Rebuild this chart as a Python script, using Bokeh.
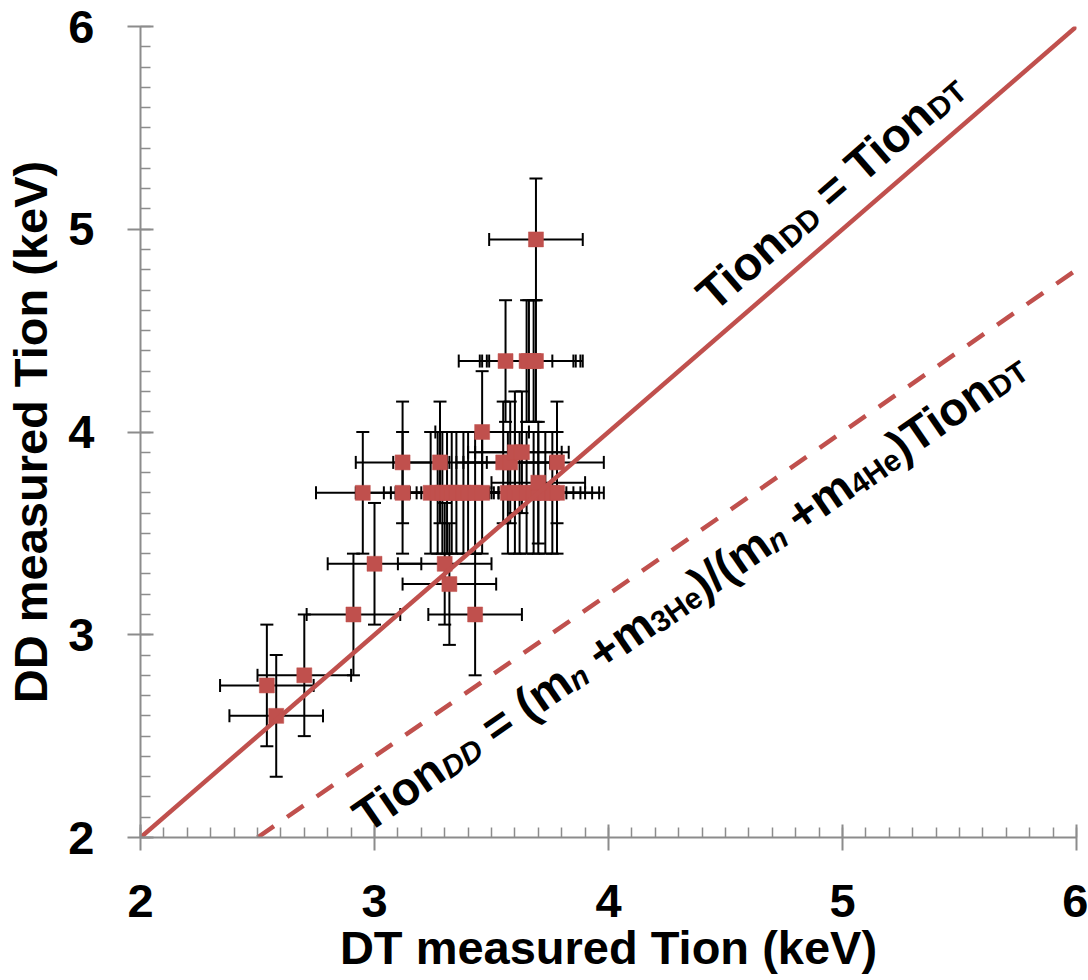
import math
from bokeh.plotting import figure
from bokeh.models import ColumnDataSource, Whisker, TeeHead, Label, FixedTicker, Range1d
from bokeh.embed import file_html
from bokeh.resources import INLINE

# ---------------- data ----------------
dt_tion = [2.54, 2.58, 2.70, 2.91, 3.00, 2.95, 3.12, 3.12, 3.28, 3.46,
           3.24, 3.27, 3.29, 3.31, 3.33, 3.35, 3.38, 3.40, 3.43, 3.46,
           3.57, 3.60, 3.62, 3.65, 3.68, 3.70, 3.73, 3.76, 3.78,
           3.55, 3.58, 3.78, 3.60, 3.63, 3.70,
           3.56, 3.65, 3.66, 3.68, 3.69, 3.69,
           3.30, 3.32, 3.43]
dd_tion = [2.75, 2.60, 2.80, 3.10, 3.35, 3.70, 3.85, 3.70, 3.85, 4.00,
           3.70, 3.70, 3.70, 3.70, 3.70, 3.70, 3.70, 3.70, 3.70, 3.70,
           3.70, 3.70, 3.70, 3.70, 3.70, 3.70, 3.70, 3.70, 3.70,
           3.85, 3.85, 3.85, 3.90, 3.90, 3.75,
           4.35, 4.35, 4.35, 4.35, 4.35, 4.95,
           3.35, 3.25, 3.10]
dt_err = [0.2, 0.2, 0.2, 0.2, 0.2, 0.2, 0.2, 0.2, 0.2, 0.2,
          0.2, 0.2, 0.2, 0.2, 0.2, 0.2, 0.2, 0.2, 0.2, 0.2,
          0.2, 0.2, 0.2, 0.2, 0.2, 0.2, 0.2, 0.2, 0.2,
          0.2, 0.2, 0.2, 0.2, 0.2, 0.2,
          0.2, 0.2, 0.2, 0.2, 0.2, 0.2,
          0.2, 0.2, 0.2]
dd_err = [0.3, 0.3, 0.3, 0.3, 0.3, 0.3, 0.3, 0.3, 0.3, 0.3,
          0.3, 0.3, 0.3, 0.3, 0.3, 0.3, 0.3, 0.3, 0.3, 0.3,
          0.3, 0.3, 0.3, 0.3, 0.3, 0.3, 0.3, 0.3, 0.3,
          0.3, 0.3, 0.3, 0.3, 0.3, 0.3,
          0.3, 0.3, 0.3, 0.3, 0.3, 0.3,
          0.3, 0.3, 0.3]

equal_x = [2, 6]
equal_y = [2, 6]
mass_x = [2.5, 6]
mass_y = [2.0, 4.8]

major_ticks = [2, 3, 4, 5, 6]
x_title = "DT measured Tion (keV)"
y_title = "DD measured Tion (keV)"

# ---------------- figure ----------------
RED = "#C0504D"
AXIS = "#8c8c8c"
FONT = "Liberation Sans"

W, H = 1088, 980
ML, MR, MT, MB = 140, 12, 26, 143

p = figure(width=W, height=H, x_range=Range1d(2, 6), y_range=Range1d(2, 6),
           output_backend="svg", toolbar_location=None,
           min_border_left=ML, min_border_right=MR, min_border_top=MT, min_border_bottom=MB)
p.outline_line_color = None
p.grid.visible = False
p.background_fill_color = "white"
p.border_fill_color = "white"

minor = [round(2 + 0.1 * i, 1) for i in range(41)]
for ax in (p.xaxis[0], p.yaxis[0]):
    ax.ticker = FixedTicker(ticks=major_ticks, minor_ticks=minor)
    ax.axis_line_color = AXIS
    ax.axis_line_width = 2
    ax.major_tick_line_color = AXIS
    ax.major_tick_line_width = 2
    ax.major_tick_in = 13
    ax.major_tick_out = 13
    ax.minor_tick_line_color = AXIS
    ax.minor_tick_line_width = 1.5
    ax.minor_tick_in = 10
    ax.minor_tick_out = 0
    ax.major_label_text_font = FONT
    ax.major_label_text_font_style = "bold"
    ax.major_label_text_font_size = "47px"
    ax.major_label_text_color = "black"
    ax.axis_label_text_font = FONT
    ax.axis_label_text_font_style = "bold"
    ax.axis_label_text_font_size = "47px"
    ax.axis_label_text_color = "black"

p.xaxis.axis_label = x_title
p.yaxis.axis_label = y_title
p.xaxis.major_label_standoff = 34
p.xaxis.axis_label_standoff = 1
p.yaxis.major_label_standoff = 33
p.yaxis.axis_label_standoff = 8

src = ColumnDataSource(dict(
    x=dt_tion, y=dd_tion,
    xl=[a - b for a, b in zip(dt_tion, dt_err)], xu=[a + b for a, b in zip(dt_tion, dt_err)],
    yl=[a - b for a, b in zip(dd_tion, dd_err)], yu=[a + b for a, b in zip(dd_tion, dd_err)],
))

def head():
    return TeeHead(size=13, line_color="black", line_width=2)

p.add_layout(Whisker(source=src, base="x", lower="yl", upper="yu", dimension="height",
                     line_color="black", line_width=2, upper_head=head(), lower_head=head(),
                     level="underlay"))
p.add_layout(Whisker(source=src, base="y", lower="xl", upper="xu", dimension="width",
                     line_color="black", line_width=2, upper_head=head(), lower_head=head(),
                     level="underlay"))

p.scatter(x="x", y="y", source=src, marker="square", size=15,
          fill_color=RED, line_color=RED, line_width=0.5)

p.line(equal_x, equal_y, line_color=RED, line_width=4.5)
p.line(mass_x, mass_y, line_color=RED, line_width=4.5, line_dash="20 16")

# ---------------- rotated annotations with subscripts ----------------
WID = {'T': 611, 'i': 278, 'o': 611, 'n': 611, 'D': 722, ' ': 278, '=': 584, '(': 333,
       ')': 333, 'm': 889, '+': 584, '3': 556, '4': 556, 'H': 722, 'e': 556, '/': 278}

def twidth(s, size):
    return sum(WID.get(c, 556) for c in s) / 1000.0 * size

fw = W - ML - MR
fh = H - MT - MB
sx = fw / 4.0
sy = fh / 4.0

def chain(x0, y0, slope, segs, main=47, sub=30, drop=8):
    a = math.atan(slope * sy / sx)
    ca, sa = math.cos(a), math.sin(a)
    s = 0.0
    for text, kind, style in segs:
        size = main if kind == "main" else sub
        d = 0 if kind == "main" else drop
        lead = len(text) - len(text.lstrip(" "))
        trail = len(text) - len(text.rstrip(" "))
        s += twidth(" " * lead, size)
        core = text.strip(" ")
        xo = s * ca + d * sa
        yo = s * sa - d * ca
        p.add_layout(Label(x=x0, y=y0, x_offset=xo, y_offset=yo, text=core, angle=a,
                           text_font=FONT, text_font_style=style, text_font_size=f"{size}px",
                           text_color="black", text_align="left", text_baseline="alphabetic"))
        s += twidth(core, size) + twidth(" " * trail, size)

chain(4.406, 4.649, 1.0, [
    ("Tion", "main", "bold"), ("DD", "sub", "bold"),
    (" = Tion", "main", "bold"), ("DT", "sub", "bold"),
])

chain(2.93, 2.084, 0.8, [
    ("Tion", "main", "bold"), ("DD", "sub", "bold italic"),
    (" = (m", "main", "bold"), ("n", "sub", "bold italic"),
    (" +m", "main", "bold"), ("3He", "sub", "bold"),
    (")/(m", "main", "bold"), ("n", "sub", "bold italic"),
    (" +m", "main", "bold"), ("4He", "sub", "bold"),
    (")Tion", "main", "bold"), ("DT", "sub", "bold"),
])

open("out.html", "w").write(file_html(p, INLINE))
